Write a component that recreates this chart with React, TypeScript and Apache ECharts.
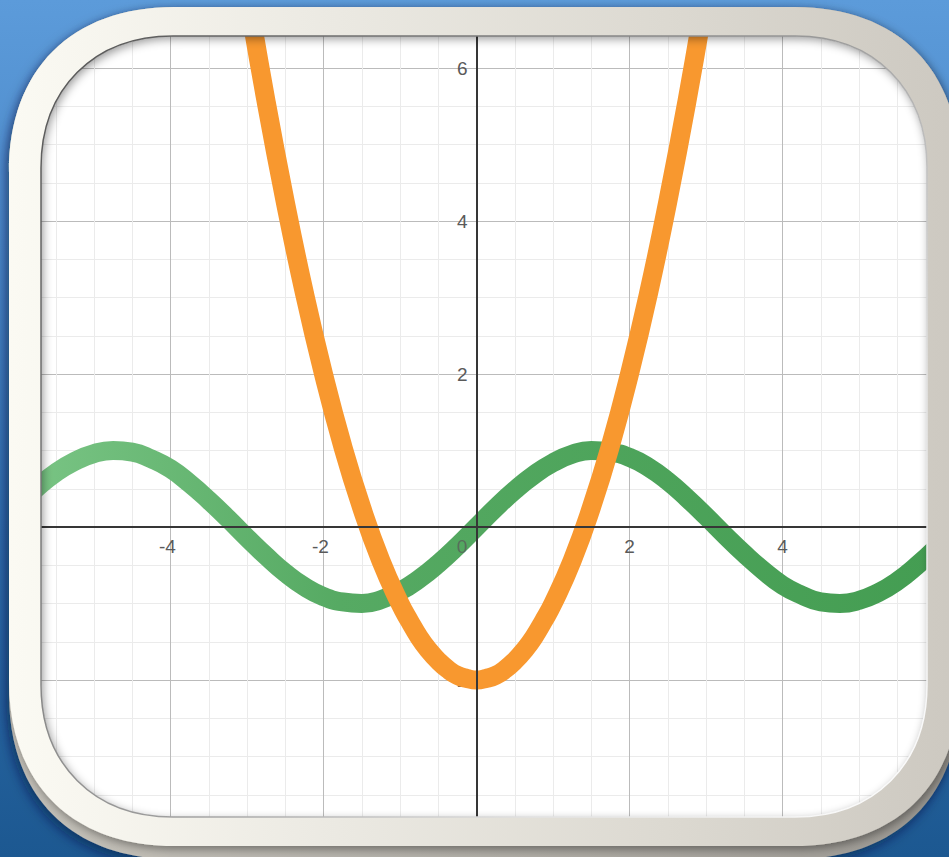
import React, { useEffect, useRef } from "react";
import * as echarts from "echarts";

const W = 949;
const H = 857;

// Sample points of the wave curve
const waveX = [
  -6, -5.75, -5.5, -5.25, -5, -4.75, -4.5, -4.25, -4, -3.75, -3.5, -3.25, -3, -2.75, -2.5, -2.25, -2,
  -1.75, -1.5, -1.25, -1, -0.75, -0.5, -0.25, 0, 0.25, 0.5, 0.75, 1, 1.25, 1.5, 1.75, 2, 2.25, 2.5,
  2.75, 3, 3.25, 3.5, 3.75, 4, 4.25, 4.5, 4.75, 5, 5.25, 5.5, 5.75, 6,
];
const waveY = [
  0.28, 0.51, 0.71, 0.86, 0.96, 1.0, 0.98, 0.89, 0.76, 0.57, 0.35, 0.11, -0.14, -0.38, -0.6, -0.78, -0.91,
  -0.98, -1.0, -0.95, -0.84, -0.68, -0.48, -0.25, 0, 0.25, 0.48, 0.68, 0.84, 0.95, 1.0, 0.98, 0.91, 0.78, 0.6,
  0.38, 0.14, -0.11, -0.35, -0.57, -0.76, -0.89, -0.98, -1.0, -0.96, -0.86, -0.71, -0.51, -0.28,
];

// Sample points of the parabola
const bowlX = [
  -3, -2.75, -2.5, -2.25, -2, -1.75, -1.5, -1.25, -1, -0.875, -0.75, -0.625, -0.5, -0.375, -0.25, -0.125, 0,
  0.125, 0.25, 0.375, 0.5, 0.625, 0.75, 0.875, 1, 1.25, 1.5, 1.75, 2, 2.25, 2.5, 2.75, 3,
];
const bowlY = [
  7, 5.56, 4.25, 3.06, 2, 1.06, 0.25, -0.44, -1, -1.23, -1.44, -1.61, -1.75, -1.86, -1.94, -1.98, -2,
  -1.98, -1.94, -1.86, -1.75, -1.61, -1.44, -1.23, -1, -0.44, 0.25, 1.06, 2, 3.06, 4.25, 5.56, 7,
];

const xTickLabels = [-4, -2, 0, 2, 4];
const yTickLabels = [-2, 2, 4, 6];

const FONT = "'Liberation Sans', Arial, Helvetica, sans-serif";
const LABEL_COLOR = "#5a5a5a";
const LABEL_SIZE = 19;

// Rounded rectangle outline as SVG path data; reverse flips the winding so it can cut a hole.
function roundRect(x: number, y: number, w: number, h: number, r: number, k: number, reverse = false) {
  const c = r * (1 - k);
  const x2 = x + w;
  const y2 = y + h;
  if (!reverse) {
    return (
      `M${x + r} ${y} L${x2 - r} ${y} C${x2 - c} ${y} ${x2} ${y + c} ${x2} ${y + r} ` +
      `L${x2} ${y2 - r} C${x2} ${y2 - c} ${x2 - c} ${y2} ${x2 - r} ${y2} ` +
      `L${x + r} ${y2} C${x + c} ${y2} ${x} ${y2 - c} ${x} ${y2 - r} ` +
      `L${x} ${y + r} C${x} ${y + c} ${x + c} ${y} ${x + r} ${y} Z`
    );
  }
  return (
    `M${x + r} ${y} C${x + c} ${y} ${x} ${y + c} ${x} ${y + r} ` +
    `L${x} ${y2 - r} C${x} ${y2 - c} ${x + c} ${y2} ${x + r} ${y2} ` +
    `L${x2 - r} ${y2} C${x2 - c} ${y2} ${x2} ${y2 - c} ${x2} ${y2 - r} ` +
    `L${x2} ${y + r} C${x2} ${y + c} ${x2 - c} ${y} ${x2 - r} ${y} Z`
  );
}

// Frame geometry
const OUT = { x: 9, y: 7, w: 951, h: 839, r: 165 };
const IN = { x: 41, y: 36, w: 886, h: 781, r: 132 };
const SIDE = { x: 9, y: 7, w: 951, h: 852, r: 165 };

const pagePath = `M-20 -20 L${W + 20} -20 L${W + 20} ${H + 20} L-20 ${H + 20} Z`;
const outerCCW = roundRect(OUT.x, OUT.y, OUT.w, OUT.h, OUT.r, 0.62, true);
const outerCW = roundRect(OUT.x, OUT.y, OUT.w, OUT.h, OUT.r, 0.62);
const innerCCW = roundRect(IN.x, IN.y, IN.w, IN.h, IN.r, 0.6, true);
const innerCW = roundRect(IN.x, IN.y, IN.w, IN.h, IN.r, 0.6);
const sideCW = roundRect(SIDE.x, SIDE.y, SIDE.w, SIDE.h, SIDE.r, 0.62);
const sideHoleCCW = roundRect(OUT.x + 9, OUT.y + 9, OUT.w - 18, OUT.h - 18, OUT.r - 9, 0.62, true);

echarts.graphic.registerShape("bgMask", echarts.graphic.extendPath(pagePath + " " + outerCCW, {}));
echarts.graphic.registerShape("frameSide", echarts.graphic.extendPath(sideCW + " " + sideHoleCCW, {}));
echarts.graphic.registerShape("frameFace", echarts.graphic.extendPath(outerCW + " " + innerCCW, {}));
echarts.graphic.registerShape("innerRim", echarts.graphic.extendPath(innerCW, {}));

const blueStops = [
  { offset: 0, color: "#5c9bda" },
  { offset: 0.3, color: "#4a88c8" },
  { offset: 0.62, color: "#2f6dab" },
  { offset: 1, color: "#1c5891" },
];

export default function App() {
  const ref = useRef<HTMLDivElement>(null);

  useEffect(() => {
    if (!ref.current) return;
    const chart = echarts.init(ref.current, undefined, { renderer: "svg", width: W, height: H });

    const minorSplit = { show: true, lineStyle: { color: "#ebebeb", width: 1 } };
    const majorSplit = { show: true, lineStyle: { color: "#bbbbbb", width: 1 } };
    const noTick = { show: false };
    const darkLine = { show: true, onZero: true, onZeroAxisIndex: 1, lineStyle: { color: "#363636", width: 2 } };

    const greenGrad = {
      type: "linear",
      x: 0,
      y: 0,
      x2: 1,
      y2: 0,
      colorStops: [
        { offset: 0, color: "#7ac585" },
        { offset: 0.35, color: "#56aa63" },
        { offset: 1, color: "#449d52" },
      ],
    };

    const frameElements = [
      {
        id: "bg",
        type: "bgMask",
        z: 50,
        silent: true,
        style: {
          fill: { type: "linear", x: 0, y: 0, x2: 0, y2: H, global: true, colorStops: blueStops },
        },
      },
      {
        id: "side",
        type: "frameSide",
        z: 51,
        silent: true,
        style: {
          fill: {
            type: "linear",
            x: OUT.x,
            y: 0,
            x2: OUT.x + OUT.w,
            y2: 0,
            global: true,
            colorStops: [
              { offset: 0, color: "#c4c1b9" },
              { offset: 1, color: "#9c9993" },
            ],
          },
          shadowBlur: 12,
          shadowOffsetX: -3,
          shadowOffsetY: 5,
          shadowColor: "rgba(5,25,60,0.55)",
        },
      },
      {
        id: "face",
        type: "frameFace",
        z: 52,
        silent: true,
        style: {
          fill: {
            type: "linear",
            x: OUT.x,
            y: 0,
            x2: 949,
            y2: 0,
            global: true,
            colorStops: [
              { offset: 0, color: "#fbfaf3" },
              { offset: 0.35, color: "#ebe9e2" },
              { offset: 0.7, color: "#dcd9d1" },
              { offset: 1, color: "#cdc9c1" },
            ],
          },
          shadowBlur: 10,
          shadowOffsetX: 2,
          shadowOffsetY: 3,
          shadowColor: "rgba(0,0,0,0.4)",
        },
      },
      {
        id: "rim",
        type: "innerRim",
        z: 53,
        silent: true,
        style: {
          fill: null,
          lineWidth: 1.5,
          stroke: {
            type: "linear",
            x: IN.x,
            y: IN.y,
            x2: IN.x + IN.w,
            y2: IN.y + IN.h,
            global: true,
            colorStops: [
              { offset: 0, color: "#555555" },
              { offset: 0.5, color: "#9a9a9a" },
              { offset: 0.75, color: "#e2e2e2" },
              { offset: 1, color: "#ffffff" },
            ],
          },
        },
      },
    ];

    const option: any = {
      animation: false,
      grid: {
        show: true,
        backgroundColor: "#ffffff",
        borderWidth: 0,
        left: 17.5,
        right: 13.5,
        top: 29.75,
        bottom: 24,
        containLabel: false,
      },
      xAxis: [
        {
          type: "value",
          min: -6,
          max: 6,
          interval: 0.5,
          position: "bottom",
          axisLine: { show: false, onZero: false },
          axisTick: noTick,
          axisLabel: { show: false },
          splitLine: minorSplit,
        },
        {
          type: "value",
          min: -6,
          max: 6,
          interval: 2,
          position: "bottom",
          axisLine: { show: false, onZero: false },
          axisTick: noTick,
          axisLabel: { show: false },
          splitLine: majorSplit,
        },
        {
          type: "value",
          min: -6,
          max: 6,
          interval: 2,
          position: "bottom",
          z: 10,
          axisLine: darkLine,
          axisTick: noTick,
          axisLabel: { show: false },
          splitLine: { show: false },
        },
      ],
      yAxis: [
        {
          type: "value",
          min: -4,
          max: 6.5,
          interval: 0.5,
          position: "left",
          axisLine: { show: false, onZero: false },
          axisTick: noTick,
          axisLabel: { show: false },
          splitLine: minorSplit,
        },
        {
          type: "value",
          min: -4,
          max: 6.5,
          interval: 2,
          position: "left",
          axisLine: { show: false, onZero: false },
          axisTick: noTick,
          axisLabel: { show: false },
          splitLine: majorSplit,
        },
        {
          type: "value",
          min: -4,
          max: 6.5,
          interval: 2,
          position: "left",
          z: 10,
          axisLine: darkLine,
          axisTick: noTick,
          axisLabel: { show: false },
          splitLine: { show: false },
        },
      ],
      series: [
        {
          type: "line",
          xAxisIndex: 1,
          yAxisIndex: 1,
          data: waveX.map((x, i) => [x, waveY[i]]),
          smooth: true,
          symbol: "none",
          showSymbol: false,
          z: 3,
          lineStyle: { width: 19, color: greenGrad, cap: "round", join: "round" },
        },
        {
          type: "line",
          xAxisIndex: 1,
          yAxisIndex: 1,
          data: bowlX.map((x, i) => [x, bowlY[i]]),
          smooth: true,
          symbol: "none",
          showSymbol: false,
          z: 4,
          lineStyle: { width: 19, color: "#f8982f", cap: "round", join: "round" },
        },
      ],
      graphic: { elements: frameElements },
    };

    chart.setOption(option);

    // Tick labels placed through the axis scale: x labels below the x axis, y labels left of the y axis.
    // Negative numbers are centred on their digits, so the minus sign hangs to the left.
    const toPx = (x: number, y: number) =>
      chart.convertToPixel({ xAxisIndex: 1, yAxisIndex: 1 }, [x, y]) as number[];
    const labelEls: any[] = [];
    xTickLabels.forEach((v, i) => {
      const p = toPx(v, 0);
      let lx = p[0];
      if (v < 0) lx -= 3;
      if (v === 0) lx -= 14.5;
      labelEls.push({
        id: "xl" + i,
        type: "text",
        z: v === 0 ? 5 : 1,
        silent: true,
        x: lx,
        y: p[1] + 10,
        style: {
          text: String(v),
          fill: LABEL_COLOR,
          fontSize: LABEL_SIZE,
          fontFamily: FONT,
          align: "center",
          verticalAlign: "top",
          opacity: v === 0 ? 0.75 : 1,
        },
      });
    });
    yTickLabels.forEach((v, i) => {
      const p = toPx(0, v);
      labelEls.push({
        id: "yl" + i,
        type: "text",
        z: 1,
        silent: true,
        x: p[0] - 9,
        y: p[1],
        style: {
          text: String(v),
          fill: LABEL_COLOR,
          fontSize: LABEL_SIZE,
          fontFamily: FONT,
          align: "right",
          verticalAlign: "middle",
        },
      });
    });
    chart.setOption({ graphic: { elements: [...frameElements, ...labelEls] } });

    return () => {
      chart.dispose();
    };
  }, []);

  return (
    <div
      ref={ref}
      style={{
        position: "fixed",
        left: 0,
        top: 0,
        width: W,
        height: H,
        background: "linear-gradient(to bottom, #5c9bda 0%, #4a88c8 30%, #2f6dab 62%, #1c5891 100%)",
      }}
    />
  );
}
